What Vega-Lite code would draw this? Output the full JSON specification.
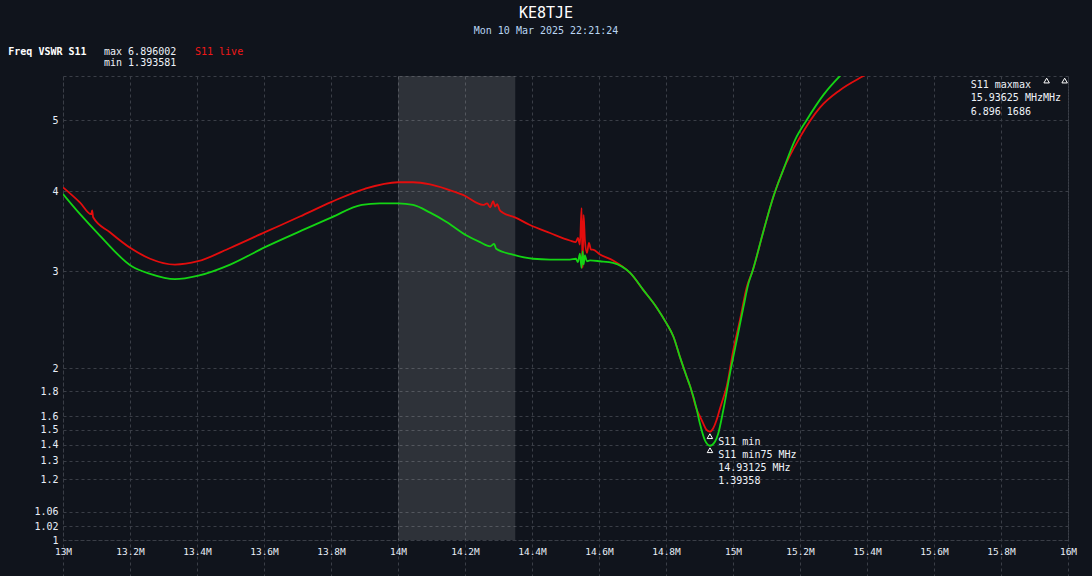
{
  "$schema": "https://vega.github.io/schema/vega-lite/v6.json",
  "width": 1005,
  "height": 464,
  "autosize": {"type": "none"},
  "padding": {"left": 63, "top": 76, "right": 24, "bottom": 36},
  "background": "#10141c",
  "config": {
    "font": "DejaVu Sans Mono",
    "view": {"stroke": "#3a3e47", "strokeDash": [3, 3], "strokeWidth": 1}
  },
  "title": {
    "text": "KE8TJE",
    "subtitle": "Mon 10 Mar 2025 22:21:24",
    "anchor": "middle",
    "frame": "group",
    "dx": -19.5,
    "offset": 10.5,
    "font": "DejaVu Sans Mono",
    "fontSize": 15,
    "fontWeight": "normal",
    "color": "#ffffff",
    "subtitleFont": "DejaVu Sans Mono",
    "subtitleFontSize": 10,
    "subtitleColor": "#b9d6f2",
    "subtitlePadding": 5
  },
  "datasets": {
    "traces": [
      {"trace": "S11 live", "f": 13.000, "vswr": 4.05},
      {"trace": "S11 live", "f": 13.051, "vswr": 3.85},
      {"trace": "S11 live", "f": 13.084, "vswr": 3.70},
      {"trace": "S11 live", "f": 13.087, "vswr": 3.75},
      {"trace": "S11 live", "f": 13.090, "vswr": 3.66},
      {"trace": "S11 live", "f": 13.140, "vswr": 3.47},
      {"trace": "S11 live", "f": 13.205, "vswr": 3.27},
      {"trace": "S11 live", "f": 13.260, "vswr": 3.15},
      {"trace": "S11 live", "f": 13.334, "vswr": 3.08},
      {"trace": "S11 live", "f": 13.403, "vswr": 3.12},
      {"trace": "S11 live", "f": 13.499, "vswr": 3.28},
      {"trace": "S11 live", "f": 13.603, "vswr": 3.47},
      {"trace": "S11 live", "f": 13.707, "vswr": 3.67},
      {"trace": "S11 live", "f": 13.802, "vswr": 3.86},
      {"trace": "S11 live", "f": 13.901, "vswr": 4.03},
      {"trace": "S11 live", "f": 14.000, "vswr": 4.12},
      {"trace": "S11 live", "f": 14.045, "vswr": 4.12},
      {"trace": "S11 live", "f": 14.096, "vswr": 4.09},
      {"trace": "S11 live", "f": 14.143, "vswr": 4.03},
      {"trace": "S11 live", "f": 14.194, "vswr": 3.95},
      {"trace": "S11 live", "f": 14.254, "vswr": 3.82},
      {"trace": "S11 live", "f": 14.266, "vswr": 3.84},
      {"trace": "S11 live", "f": 14.275, "vswr": 3.79},
      {"trace": "S11 live", "f": 14.284, "vswr": 3.87},
      {"trace": "S11 live", "f": 14.290, "vswr": 3.80},
      {"trace": "S11 live", "f": 14.296, "vswr": 3.83},
      {"trace": "S11 live", "f": 14.304, "vswr": 3.75},
      {"trace": "S11 live", "f": 14.313, "vswr": 3.72},
      {"trace": "S11 live", "f": 14.349, "vswr": 3.66},
      {"trace": "S11 live", "f": 14.394, "vswr": 3.56},
      {"trace": "S11 live", "f": 14.454, "vswr": 3.46},
      {"trace": "S11 live", "f": 14.513, "vswr": 3.37},
      {"trace": "S11 live", "f": 14.531, "vswr": 3.35},
      {"trace": "S11 live", "f": 14.537, "vswr": 3.40},
      {"trace": "S11 live", "f": 14.543, "vswr": 3.32},
      {"trace": "S11 live", "f": 14.548, "vswr": 3.78},
      {"trace": "S11 live", "f": 14.551, "vswr": 3.04},
      {"trace": "S11 live", "f": 14.554, "vswr": 3.69},
      {"trace": "S11 live", "f": 14.558, "vswr": 3.37},
      {"trace": "S11 live", "f": 14.564, "vswr": 3.22},
      {"trace": "S11 live", "f": 14.570, "vswr": 3.34},
      {"trace": "S11 live", "f": 14.576, "vswr": 3.26},
      {"trace": "S11 live", "f": 14.582, "vswr": 3.26},
      {"trace": "S11 live", "f": 14.603, "vswr": 3.20},
      {"trace": "S11 live", "f": 14.642, "vswr": 3.13},
      {"trace": "S11 live", "f": 14.693, "vswr": 2.98},
      {"trace": "S11 live", "f": 14.732, "vswr": 2.79},
      {"trace": "S11 live", "f": 14.772, "vswr": 2.60},
      {"trace": "S11 live", "f": 14.802, "vswr": 2.43},
      {"trace": "S11 live", "f": 14.822, "vswr": 2.30},
      {"trace": "S11 live", "f": 14.842, "vswr": 2.10},
      {"trace": "S11 live", "f": 14.862, "vswr": 1.92},
      {"trace": "S11 live", "f": 14.872, "vswr": 1.84},
      {"trace": "S11 live", "f": 14.892, "vswr": 1.65},
      {"trace": "S11 live", "f": 14.901, "vswr": 1.60},
      {"trace": "S11 live", "f": 14.911, "vswr": 1.548},
      {"trace": "S11 live", "f": 14.921, "vswr": 1.50},
      {"trace": "S11 live", "f": 14.931, "vswr": 1.488},
      {"trace": "S11 live", "f": 14.941, "vswr": 1.512},
      {"trace": "S11 live", "f": 14.951, "vswr": 1.572},
      {"trace": "S11 live", "f": 14.960, "vswr": 1.65},
      {"trace": "S11 live", "f": 14.971, "vswr": 1.743},
      {"trace": "S11 live", "f": 14.981, "vswr": 1.836},
      {"trace": "S11 live", "f": 15.001, "vswr": 2.17},
      {"trace": "S11 live", "f": 15.021, "vswr": 2.47},
      {"trace": "S11 live", "f": 15.041, "vswr": 2.82},
      {"trace": "S11 live", "f": 15.059, "vswr": 3.01},
      {"trace": "S11 live", "f": 15.090, "vswr": 3.47},
      {"trace": "S11 live", "f": 15.120, "vswr": 3.92},
      {"trace": "S11 live", "f": 15.150, "vswr": 4.29},
      {"trace": "S11 live", "f": 15.200, "vswr": 4.75},
      {"trace": "S11 live", "f": 15.260, "vswr": 5.19},
      {"trace": "S11 live", "f": 15.319, "vswr": 5.45},
      {"trace": "S11 live", "f": 15.389, "vswr": 5.67},
      {"trace": "S11 live", "f": 15.550, "vswr": 6.10},
      {"trace": "S11 live", "f": 15.750, "vswr": 6.50},
      {"trace": "S11 live", "f": 15.93625, "vswr": 6.896},
      {"trace": "S11 live", "f": 16.000, "vswr": 6.88},
      {"trace": "S11", "f": 13.000, "vswr": 3.96},
      {"trace": "S11", "f": 13.051, "vswr": 3.70},
      {"trace": "S11", "f": 13.110, "vswr": 3.43},
      {"trace": "S11", "f": 13.205, "vswr": 3.06},
      {"trace": "S11", "f": 13.260, "vswr": 2.97},
      {"trace": "S11", "f": 13.334, "vswr": 2.91},
      {"trace": "S11", "f": 13.404, "vswr": 2.95},
      {"trace": "S11", "f": 13.499, "vswr": 3.08},
      {"trace": "S11", "f": 13.603, "vswr": 3.29},
      {"trace": "S11", "f": 13.707, "vswr": 3.48},
      {"trace": "S11", "f": 13.802, "vswr": 3.66},
      {"trace": "S11", "f": 13.892, "vswr": 3.82},
      {"trace": "S11", "f": 13.946, "vswr": 3.84},
      {"trace": "S11", "f": 14.001, "vswr": 3.84},
      {"trace": "S11", "f": 14.045, "vswr": 3.82},
      {"trace": "S11", "f": 14.096, "vswr": 3.72},
      {"trace": "S11", "f": 14.145, "vswr": 3.60},
      {"trace": "S11", "f": 14.205, "vswr": 3.43},
      {"trace": "S11", "f": 14.245, "vswr": 3.35},
      {"trace": "S11", "f": 14.275, "vswr": 3.30},
      {"trace": "S11", "f": 14.287, "vswr": 3.33},
      {"trace": "S11", "f": 14.293, "vswr": 3.27},
      {"trace": "S11", "f": 14.343, "vswr": 3.20},
      {"trace": "S11", "f": 14.403, "vswr": 3.15},
      {"trace": "S11", "f": 14.454, "vswr": 3.14},
      {"trace": "S11", "f": 14.513, "vswr": 3.14},
      {"trace": "S11", "f": 14.531, "vswr": 3.15},
      {"trace": "S11", "f": 14.537, "vswr": 3.11},
      {"trace": "S11", "f": 14.543, "vswr": 3.21},
      {"trace": "S11", "f": 14.548, "vswr": 3.04},
      {"trace": "S11", "f": 14.551, "vswr": 3.24},
      {"trace": "S11", "f": 14.554, "vswr": 3.08},
      {"trace": "S11", "f": 14.558, "vswr": 3.19},
      {"trace": "S11", "f": 14.564, "vswr": 3.12},
      {"trace": "S11", "f": 14.573, "vswr": 3.13},
      {"trace": "S11", "f": 14.603, "vswr": 3.12},
      {"trace": "S11", "f": 14.642, "vswr": 3.10},
      {"trace": "S11", "f": 14.693, "vswr": 2.98},
      {"trace": "S11", "f": 14.732, "vswr": 2.79},
      {"trace": "S11", "f": 14.772, "vswr": 2.60},
      {"trace": "S11", "f": 14.802, "vswr": 2.43},
      {"trace": "S11", "f": 14.822, "vswr": 2.30},
      {"trace": "S11", "f": 14.842, "vswr": 2.10},
      {"trace": "S11", "f": 14.862, "vswr": 1.92},
      {"trace": "S11", "f": 14.872, "vswr": 1.84},
      {"trace": "S11", "f": 14.892, "vswr": 1.65},
      {"trace": "S11", "f": 14.901, "vswr": 1.548},
      {"trace": "S11", "f": 14.916, "vswr": 1.431},
      {"trace": "S11", "f": 14.93125, "vswr": 1.39358},
      {"trace": "S11", "f": 14.946, "vswr": 1.42},
      {"trace": "S11", "f": 14.956, "vswr": 1.476},
      {"trace": "S11", "f": 14.971, "vswr": 1.647},
      {"trace": "S11", "f": 14.991, "vswr": 1.953},
      {"trace": "S11", "f": 15.011, "vswr": 2.26},
      {"trace": "S11", "f": 15.031, "vswr": 2.60},
      {"trace": "S11", "f": 15.046, "vswr": 2.86},
      {"trace": "S11", "f": 15.059, "vswr": 3.01},
      {"trace": "S11", "f": 15.090, "vswr": 3.47},
      {"trace": "S11", "f": 15.120, "vswr": 3.92},
      {"trace": "S11", "f": 15.150, "vswr": 4.29},
      {"trace": "S11", "f": 15.185, "vswr": 4.71},
      {"trace": "S11", "f": 15.220, "vswr": 5.00},
      {"trace": "S11", "f": 15.270, "vswr": 5.38},
      {"trace": "S11", "f": 15.319, "vswr": 5.67},
      {"trace": "S11", "f": 15.450, "vswr": 6.20},
      {"trace": "S11", "f": 15.700, "vswr": 6.70},
      {"trace": "S11", "f": 15.93625, "vswr": 6.896},
      {"trace": "S11", "f": 16.000, "vswr": 6.90}
    ],
    "markers": [
      {"f": 14.931, "vswr": 1.488},
      {"f": 14.93125, "vswr": 1.39358},
      {"f": 15.93625, "vswr": 5.67},
      {"f": 15.99, "vswr": 5.67}
    ],
    "notes": [
      {"f": 14.956, "vswr": 1.420, "label": "S11 min"},
      {"f": 14.956, "vswr": 1.336, "label": "S11 min75 MHz"},
      {"f": 14.956, "vswr": 1.262, "label": "14.93125 MHz"},
      {"f": 14.956, "vswr": 1.190, "label": "1.39358"},
      {"f": 15.7096, "vswr": 5.53, "label": "S11 maxmax"},
      {"f": 15.7096, "vswr": 5.337, "label": "15.93625 MHzMHz"},
      {"f": 15.7096, "vswr": 5.125, "label": "6.896 1686"},
      {"f": 13.1224, "vswr": 6.055, "label": "max 6.896002"},
      {"f": 13.1224, "vswr": 5.87, "label": "min 1.393581"}
    ],
    "liveNote": [{"f": 13.394, "vswr": 6.055, "label": "S11 live"}],
    "header": [{"f": 12.8367, "vswr": 6.055, "label": "Freq VSWR S11"}],
    "band": [{"f": 14.0, "f2": 14.35}]
  },
  "layer": [
    {
      "data": {"name": "band"},
      "mark": {"type": "rect", "color": "#ffffff", "opacity": 0.13},
      "encoding": {
        "x": {"field": "f", "type": "quantitative", "title": null, "scale": {"domain": [13, 16], "nice": false, "zero": false}},
        "x2": {"field": "f2"}
      }
    },
    {
      "data": {"name": "traces"},
      "mark": {"type": "line", "strokeWidth": 1.8, "clip": true, "interpolate": "monotone"},
      "encoding": {
        "x": {
          "field": "f", "type": "quantitative", "title": null,
          "scale": {"domain": [13, 16], "nice": false, "zero": false},
          "axis": {
            "values": [13, 13.2, 13.4, 13.6, 13.8, 14, 14.2, 14.4, 14.6, 14.8, 15, 15.2, 15.4, 15.6, 15.8, 16],
            "tickCount": 50,
            "labelExpr": "format(datum.value, '.1~f') + 'M'",
            "grid": true, "gridColor": "#3a3e47", "gridDash": [3, 3],
            "domain": false, "ticks": false, "tickSize": 0,
            "labelPadding": 6, "labelColor": "#e8eef7", "labelFont": "DejaVu Sans Mono",
            "labelFontSize": 9.5, "labelFlush": false, "labelOverlap": false
          }
        },
        "y": {
          "field": "vswr", "type": "quantitative", "title": null,
          "scale": {
            "domain": [1, 1.01, 1.02, 1.04, 1.06, 1.1, 1.15, 1.2, 1.3, 1.4, 1.5, 1.6, 1.7, 1.8, 1.9, 2, 2.25, 2.5, 2.75, 3, 3.5, 4, 4.5, 5, 5.5, 6, 7],
            "range": [464, 455.1, 450.2, 442.4, 435.9, 425, 413.3, 403, 384.8, 368.7, 353.9, 340.2, 327.3, 315, 303.3, 292, 265.4, 240.7, 217.4, 195.2, 153.7, 115, 78.6, 44, 10.9, -21, -81],
            "zero": false, "nice": false
          },
          "axis": {
            "values": [1, 1.02, 1.06, 1.2, 1.3, 1.4, 1.5, 1.6, 1.8, 2, 3, 4, 5],
            "tickCount": 50,
            "labelExpr": "format(datum.value, '~g')",
            "grid": true, "gridColor": "#3a3e47", "gridDash": [3, 3],
            "domain": false, "ticks": false, "tickSize": 0,
            "labelPadding": 5, "labelColor": "#e8eef7", "labelFont": "DejaVu Sans Mono",
            "labelFontSize": 10, "labelFlush": false, "labelOverlap": false
          }
        },
        "color": {
          "field": "trace", "type": "nominal",
          "scale": {"domain": ["S11", "S11 live"], "range": ["#14d414", "#e30d0d"]},
          "legend": null
        }
      }
    },
    {
      "data": {"name": "markers"},
      "mark": {"type": "point", "shape": "triangle-up", "filled": false, "color": "#ffffff", "strokeWidth": 1, "size": 30, "yOffset": 4.5, "opacity": 1},
      "encoding": {
        "x": {"field": "f", "type": "quantitative", "title": null},
        "y": {"field": "vswr", "type": "quantitative", "title": null}
      }
    },
    {
      "data": {"name": "notes"},
      "mark": {"type": "text", "align": "left", "baseline": "middle", "font": "DejaVu Sans Mono", "fontSize": 10, "color": "#eef2f8", "clip": false},
      "encoding": {
        "x": {"field": "f", "type": "quantitative", "title": null},
        "y": {"field": "vswr", "type": "quantitative", "title": null},
        "text": {"field": "label"}
      }
    },
    {
      "data": {"name": "liveNote"},
      "mark": {"type": "text", "align": "left", "baseline": "middle", "font": "DejaVu Sans Mono", "fontSize": 10, "color": "#f01818", "clip": false},
      "encoding": {
        "x": {"field": "f", "type": "quantitative", "title": null},
        "y": {"field": "vswr", "type": "quantitative", "title": null},
        "text": {"field": "label"}
      }
    },
    {
      "data": {"name": "header"},
      "mark": {"type": "text", "align": "left", "baseline": "middle", "font": "DejaVu Sans Mono", "fontSize": 10, "fontWeight": "bold", "color": "#ffffff", "clip": false},
      "encoding": {
        "x": {"field": "f", "type": "quantitative", "title": null},
        "y": {"field": "vswr", "type": "quantitative", "title": null},
        "text": {"field": "label"}
      }
    }
  ]
}
